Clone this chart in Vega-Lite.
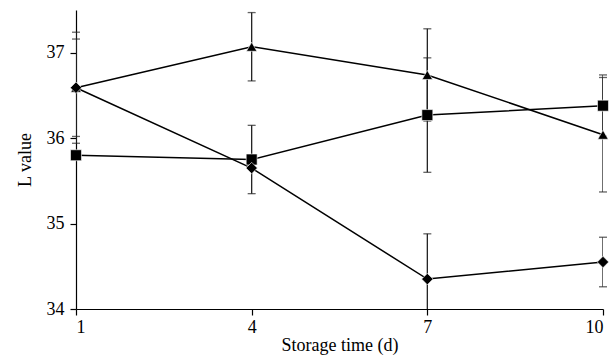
{
  "$schema": "https://vega.github.io/schema/vega-lite/v6.json",
  "width": 527,
  "height": 299,
  "autosize": {"type": "none"},
  "padding": {"left": 76, "top": 10, "right": 8, "bottom": 52},
  "background": "white",
  "config": {
    "view": {"stroke": null},
    "font": "Liberation Serif",
    "axis": {"grid": false, "domainColor": "black", "tickColor": "black", "labelColor": "black", "titleColor": "black", "labelFont": "Liberation Serif", "titleFont": "Liberation Serif", "labelFontSize": 18, "titleFontSize": 18, "titleFontWeight": "normal", "domainWidth": 1.2, "tickWidth": 1.2, "tickSize": 6}
  },
  "data": {
    "values": [
      {"series": "A", "day": 1, "value": 36.59, "err": 0.57},
      {"series": "A", "day": 4, "value": 37.07, "err": 0.4},
      {"series": "A", "day": 7, "value": 36.74, "err": 0.54},
      {"series": "A", "day": 10, "value": 36.04, "err": 0.67},
      {"series": "B", "day": 1, "value": 35.8, "err": 0.0},
      {"series": "B", "day": 4, "value": 35.75, "err": 0.4},
      {"series": "B", "day": 7, "value": 36.27, "err": 0.67},
      {"series": "B", "day": 10, "value": 36.38, "err": 0.36},
      {"series": "C", "day": 1, "value": 36.59, "err": 0.65},
      {"series": "C", "day": 4, "value": 35.65, "err": 0.0},
      {"series": "C", "day": 7, "value": 34.35, "err": 0.53},
      {"series": "C", "day": 10, "value": 34.55, "err": 0.29}
    ]
  },
  "transform": [
    {"calculate": "datum.value - datum.err", "as": "lo"},
    {"calculate": "datum.value + datum.err", "as": "hi"}
  ],
  "encoding": {
    "x": {"field": "day", "type": "quantitative", "scale": {"domain": [1, 10], "nice": false}, "axis": {"values": [1, 4, 7, 10], "title": "Storage time (d)", "labelPadding": 3, "titlePadding": 0}}
  },
  "layer": [
    {
      "mark": {"type": "line", "color": "black", "strokeWidth": 1.5},
      "encoding": {
        "y": {"field": "value", "type": "quantitative", "scale": {"domain": [34, 37.5], "nice": false, "zero": false}, "axis": {"values": [34, 35, 36, 37], "format": "d", "title": "L value", "titlePadding": 12, "labelPadding": 6}},
        "detail": {"field": "series"}
      }
    },
    {
      "transform": [{"filter": "datum.err > 0"}],
      "mark": {"type": "rule", "color": "#222", "strokeWidth": 1.3, "clip": true},
      "encoding": {"y": {"field": "lo", "type": "quantitative"}, "y2": {"field": "hi"}}
    },
    {
      "transform": [{"filter": "datum.err > 0"}, {"fold": ["lo", "hi"], "as": ["end", "ev"]}, {"filter": "datum.ev >= 34"}],
      "mark": {"type": "tick", "orient": "horizontal", "color": "#222", "size": 8, "thickness": 1.3},
      "encoding": {"y": {"field": "ev", "type": "quantitative"}}
    },
    {
      "mark": {"type": "point", "filled": true, "color": "black", "opacity": 1, "stroke": "white", "strokeWidth": 0.6},
      "encoding": {
        "y": {"field": "value", "type": "quantitative"},
        "shape": {"field": "series", "type": "nominal", "scale": {"domain": ["A", "B", "C"], "range": ["triangle-up", "square", "diamond"]}, "legend": null},
        "size": {"field": "series", "type": "nominal", "scale": {"domain": ["A", "B", "C"], "range": [110, 130, 170]}, "legend": null}
      }
    }
  ]
}
